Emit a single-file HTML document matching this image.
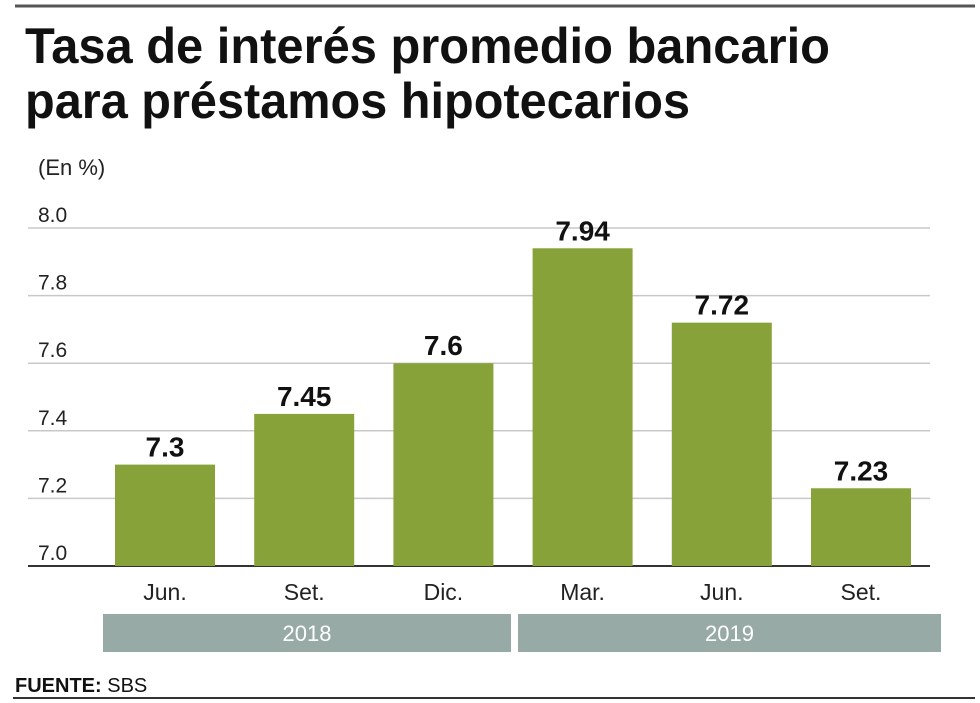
<!DOCTYPE html>
<html><head><meta charset="utf-8"><style>
body{margin:0;background:#fff}
svg{display:block;font-family:"Liberation Sans",sans-serif}
</style></head><body>
<svg width="980" height="703" viewBox="0 0 980 703">
<line x1="15" y1="6" x2="975" y2="6" stroke="#555" stroke-width="3"/>
<text x="25" y="63" font-size="50" font-weight="bold" textLength="805" lengthAdjust="spacingAndGlyphs" fill="#111">Tasa de interés promedio bancario</text>
<text x="25" y="118" font-size="50" font-weight="bold" textLength="665" lengthAdjust="spacingAndGlyphs" fill="#111">para préstamos hipotecarios</text>
<text x="38" y="175" font-size="22" fill="#222">(En %)</text>
<g id="grid"></g>
<g id="bars"></g>
<g id="years"></g>
<text x="15" y="692" font-size="20" fill="#111"><tspan font-weight="bold">FUENTE:</tspan> SBS</text>
<line x1="13" y1="698" x2="975" y2="698" stroke="#333" stroke-width="2"/>
</svg>
<script>
const categories=["Jun.","Set.","Dic.","Mar.","Jun.","Set."];
const values=[7.3,7.45,7.6,7.94,7.72,7.23];
const valueLabels=["7.3","7.45","7.6","7.94","7.72","7.23"];
const ticks=[7.0,7.2,7.4,7.6,7.8,8.0];
const tickLabels=["7.0","7.2","7.4","7.6","7.8","8.0"];
const years=["2018","2019"];
const NS="http://www.w3.org/2000/svg";
function y(v){return 566-(v-7.0)/1.0*338;}
function xc(i){return 165+i*139.2;}
function mk(t,a,p){const e=document.createElementNS(NS,t);for(const k in a)e.setAttribute(k,a[k]);p.appendChild(e);return e;}
const grid=document.getElementById('grid');
ticks.forEach((t,i)=>{
 const l=mk('line',{x1:28,x2:930,y1:y(t),y2:y(t),stroke:i===0?'#333':'#c8c8c8','stroke-width':i===0?2:1.5},grid);
 
 
 const tx=mk('text',{x:38,y:y(t)-6,'font-size':21,fill:'#222'},grid);
 tx.textContent=tickLabels[i];
 
 
});
const bars=document.getElementById('bars');
values.forEach((v,i)=>{
 const r=mk('rect',{x:xc(i)-50,y:y(v),width:100,height:y(7.0)-y(v),fill:'#88a23a'},bars);
 
 
 const t=mk('text',{x:xc(i),y:y(v)-8,'font-size':28,'font-weight':'bold','text-anchor':'middle',fill:'#111'},bars);
 t.textContent=valueLabels[i];
 
 
 const c=mk('text',{x:xc(i),y:600,'font-size':23,'text-anchor':'middle',fill:'#222'},bars);
 c.textContent=categories[i];
 
 
});
const yg=document.getElementById('years');
years.forEach((yr,i)=>{
 const x1=i?518:103,x2=i?941:511;
 const r=mk('rect',{x:x1,y:614,width:x2-x1,height:38,fill:'#97aaa5'},yg);
 
 
 const t=mk('text',{x:(x1+x2)/2,y:641,'font-size':22,'text-anchor':'middle',fill:'#fff'},yg);
 t.textContent=yr;
 
 
});
</script>
</body></html>
